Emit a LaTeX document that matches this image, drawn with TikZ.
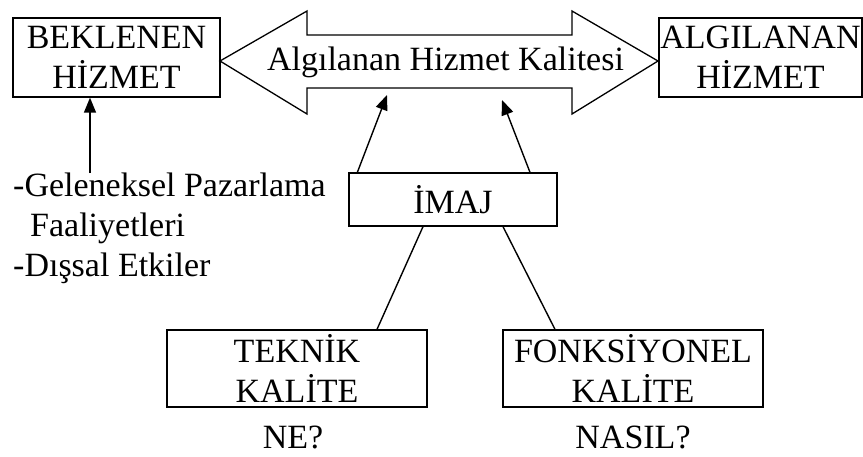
\documentclass[tikz,border=0pt]{standalone}
\usepackage{fontspec}
\setmainfont{Liberation Serif}
\usetikzlibrary{arrows.meta}
\begin{document}
\begin{tikzpicture}[x=1pt,y=-1pt,
  box/.style={draw=black,line width=1.3pt,rectangle,align=center,inner sep=0pt,
    font=\fontsize{34}{40}\selectfont},
  lbl/.style={align=center,inner sep=0pt,font=\fontsize{34}{40}\selectfont},
  conn/.style={line width=1.4pt},
  arr/.style={line width=1.4pt,-{Triangle[length=15pt,width=12pt]}}]
\useasboundingbox (0,0) rectangle (863,456);
% boxes
\node[box,minimum width=207pt,minimum height=79pt] (bek) at (116.5,57.5) {BEKLENEN\\HİZMET};
\node[box,minimum width=203pt,minimum height=79pt] (alg) at (760.5,57.5) {ALGILANAN\\HİZMET};
\node[box,minimum width=208pt,minimum height=53pt] (imaj) at (453,199.5) {İMAJ};
\node[box,minimum width=260pt,minimum height=77pt] (tek) at (297,368.5) {TEKNİK\\KALİTE};
\node[box,minimum width=260pt,minimum height=77pt] (fon) at (633,368.5) {FONKSİYONEL\\KALİTE};
\node[lbl] (ne) at (293,437) {NE?};
\node[lbl] (nasil) at (633,437) {NASIL?};
% double arrow
\draw[line width=1.3pt,fill=white] (220,61) -- (307,11) -- (307,35) -- (572,35) -- (572,11)
  -- (658,61) -- (572,114) -- (572,88) -- (307,88) -- (307,114) -- cycle;
\node[lbl] (hk) at (445.5,62) {Algılanan Hizmet Kalitesi};
% list
\node[lbl,align=left,anchor=north west] (list) at (13,173)
  {-Geleneksel Pazarlama\\\hspace*{0.5em}Faaliyetleri\\-Dışsal Etkiler};
\coordinate (lt) at (90,173);
\draw[arr] (lt) -- (lt |- bek.south);
% arrows from imaj
\coordinate (ha) at (387,95);
\coordinate (hb) at (502,100);
\draw[arr] ([xshift=9pt]imaj.north west) -- (ha);
\draw[arr] (imaj.north -| 530,0) -- (hb);
% lines to quality boxes
\draw[conn] (imaj.south -| 423,0) -- (tek.north -| 377,0);
\draw[conn] (imaj.south -| 503,0) -- (fon.north -| 555,0);
\end{tikzpicture}
\end{document}
